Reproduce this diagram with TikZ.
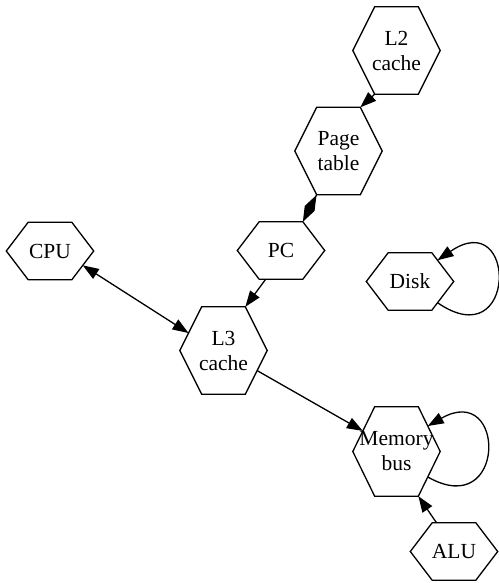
\documentclass[tikz,border=0pt]{standalone}
\usepackage{fontspec}
\setmainfont{Liberation Serif}
\usetikzlibrary{calc,arrows.meta}
\newcommand\hexat[1]{%
  \coordinate (#1-nw) at ($(#1.north west)!.25!(#1.north east)$);
  \coordinate (#1-ne) at ($(#1.north west)!.75!(#1.north east)$);
  \coordinate (#1-sw) at ($(#1.south west)!.25!(#1.south east)$);
  \coordinate (#1-se) at ($(#1.south west)!.75!(#1.south east)$);
  \draw[hexline] (#1.west) -- (#1-nw) -- (#1-ne) -- (#1.east) -- (#1-se) -- (#1-sw) -- cycle;}
\begin{document}
\begin{tikzpicture}[x=1pt,y=-1pt,
  hexbase/.style={rectangle, inner sep=0pt, minimum width=87pt, align=center,
    font=\fontsize{21.5}{25}\selectfont},
  hexone/.style={hexbase, minimum height=57pt},
  hextwo/.style={hexbase, minimum height=87pt},
  hexline/.style={line width=1.3pt, line join=miter},
  edge/.style={line width=1.3pt, -{Triangle[length=16pt,width=11.5pt]}},
  dedge/.style={line width=1.3pt, {Triangle[length=16pt,width=11.5pt]}-{Triangle[length=16pt,width=11.5pt]}},
  diaedge/.style={line width=1.3pt, -{Diamond[length=30pt,width=11pt]}}]
\useasboundingbox (0,0) rectangle (498,583);
\node[hextwo] (l2) at (396.5,50.5) {L2\\cache};
\node[hextwo] (pt) at (338.5,151) {Page\\table};
\node[hexone] (pc) at (281,250.5) {PC};
\node[hexone] (cpu) at (50,251) {CPU};
\node[hextwo] (l3) at (223.5,350.5) {L3\\cache};
\node[hexone] (disk) at (410,281.5) {Disk};
\node[hextwo, minimum height=89pt] (mb) at (396.5,451.5) {Memory\\bus};
\node[hexone] (alu) at (454,551.5) {ALU};
\hexat{l2}\hexat{pt}\hexat{pc}\hexat{cpu}\hexat{l3}\hexat{disk}\hexat{mb}\hexat{alu}
\draw[edge] (l2-sw) -- (pt-ne);
\draw[diaedge] (pt-sw) -- (pc-ne);
\draw[edge] ($(pc-sw)!.15!(pc-se)$) -- (l3-ne);
\draw[dedge] ($(cpu.east)!.5!(cpu-se)$) -- ($(l3.west)!.4!(l3-nw)$);
\draw[edge] ($(l3.east)!.46!(l3-se)$) -- ($(mb.west)!.46!(mb-nw)$);
\draw[edge] ($(alu-nw)!.1!(alu-ne)$) -- (mb-se);
\draw[edge] ($(mb.east)!.57!(mb-se)$) .. controls +(79,45) and +(79,-45) .. ($(mb.east)!.57!(mb-ne)$);
\draw[edge] ($(disk.east)!.74!(disk-se)$) .. controls +(80,55) and +(80,-55) .. ($(disk.east)!.74!(disk-ne)$);
\end{tikzpicture}
\end{document}
